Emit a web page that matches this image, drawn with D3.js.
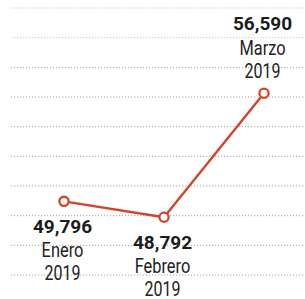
<!DOCTYPE html>
<html>
<head>
<meta charset="utf-8">
<script src="https://cdn.jsdelivr.net/npm/d3@7"></script>
<style>
  html, body { margin: 0; padding: 0; background: #ffffff; }
  svg { display: block; }
</style>
</head>
<body>
<svg id="chart" width="305" height="299"></svg>
<script>
const categories = ["Enero", "Febrero", "Marzo"];
const years = ["2019", "2019", "2019"];
const values = [49796, 48792, 56590];
const labelAbove = [false, false, true];
const gridLineCount = 10;

const W = 305, H = 299;
const svg = d3.select("#chart");

const x = d3.scalePoint().domain(categories).range([64, 264]);
const y = d3.scaleLinear().domain([48792, 56590]).range([217.3, 93.3]);
const gridY = d3.scaleLinear().domain([0, gridLineCount - 1]).range([8, 275]);

// dotted gridlines
svg.append("g").selectAll("line")
  .data(d3.range(gridLineCount))
  .join("line")
  .attr("x1", 11).attr("x2", W)
  .attr("y1", d => gridY(d)).attr("y2", d => gridY(d))
  .attr("stroke", "#8a8a8a")
  .attr("stroke-width", 1)
  .attr("stroke-dasharray", "1.2,1.8")
  .attr("opacity", (d, i) => i < 2 ? 0.45 : 0.75);

const data = categories.map((c, i) => ({ c, v: values[i], yr: years[i], above: labelAbove[i] }));

const color = "#d0462c";
svg.append("path")
  .datum(data)
  .attr("fill", "none")
  .attr("stroke", color)
  .attr("stroke-width", 2.4)
  .attr("stroke-linejoin", "round")
  .attr("d", d3.line().x(d => x(d.c)).y(d => y(d.v)));

svg.append("g").selectAll("circle")
  .data(data)
  .join("circle")
  .attr("cx", d => x(d.c))
  .attr("cy", d => y(d.v))
  .attr("r", 4.6)
  .attr("fill", "#ffffff")
  .attr("stroke", color)
  .attr("stroke-width", 2.3);

const fmt = d3.format(",");
const labels = svg.append("g").selectAll("g")
  .data(data)
  .join("g")
  .attr("transform", d => `translate(${x(d.c) - 1.5},0)`);

function baselines(d) {
  const py = y(d.v);
  if (d.above) {
    const yr = py - 15;
    const nm = yr - 23.3;
    return { num: nm - 25, name: nm, year: yr };
  }
  const num = py + 32;
  const nm = num + 23.5;
  return { num, name: nm, year: nm + 22.8 };
}

labels.append("text")
  .attr("y", d => baselines(d).num)
  .attr("text-anchor", "middle")
  .attr("font-family", "Roboto, 'Noto Sans', sans-serif")
  .attr("font-weight", 700)
  .attr("font-size", 19)
  .attr("fill", "#1c1c1c")
  .text(d => fmt(d.v));

labels.append("text")
  .attr("transform", d => `translate(0,${baselines(d).name}) scale(0.82,1)`)
  .attr("text-anchor", "middle")
  .attr("font-family", "Roboto, 'Noto Sans', sans-serif")
  .attr("font-size", 20)
  .attr("fill", "#222222")
  .text(d => d.c);

labels.append("text")
  .attr("transform", d => `translate(0,${baselines(d).year}) scale(0.8,1)`)
  .attr("text-anchor", "middle")
  .attr("font-family", "Roboto, 'Noto Sans', sans-serif")
  .attr("font-size", 20)
  .attr("fill", "#222222")
  .text(d => d.yr);
</script>
</body>
</html>
